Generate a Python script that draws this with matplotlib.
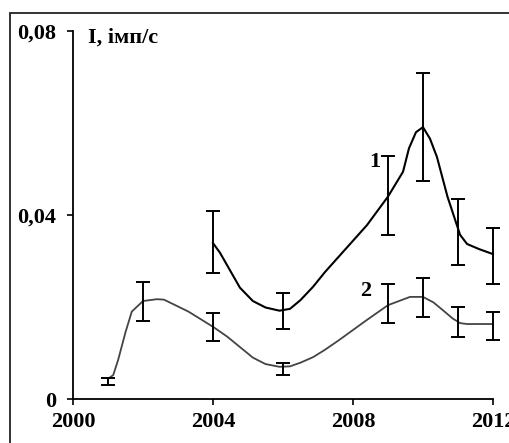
import matplotlib
matplotlib.use("Agg")
import matplotlib.pyplot as plt
from matplotlib.patches import Rectangle

plt.rcParams['font.family'] = ['Liberation Serif', 'DejaVu Serif']
plt.rcParams['font.weight'] = 'bold'

# curve 1 (traced line)
x1 = [2004.0, 2004.2, 2004.5, 2004.77, 2005.14, 2005.5, 2005.9, 2006.2, 2006.5, 2006.86,
      2007.2, 2007.6, 2008.0, 2008.4, 2009.0, 2009.43, 2009.6, 2009.8, 2010.0, 2010.2,
      2010.4, 2010.7, 2011.06, 2011.26, 2011.6, 2012.0]
y1 = [0.0339, 0.0318, 0.0278, 0.0242, 0.0213, 0.0199, 0.0192, 0.0196, 0.0215, 0.0244,
      0.0276, 0.0310, 0.0344, 0.0378, 0.0440, 0.0494, 0.0545, 0.0580, 0.0591, 0.0566,
      0.0526, 0.0440, 0.0357, 0.0337, 0.0326, 0.0315]

# curve 2 (traced line)
x2 = [2001.0, 2001.15, 2001.29, 2001.5, 2001.68, 2002.0, 2002.4, 2002.6, 2003.3, 2004.0,
      2004.4, 2004.77, 2005.14, 2005.5, 2005.9, 2006.2, 2006.5, 2006.86, 2007.2, 2007.6,
      2008.0, 2008.4, 2009.0, 2009.63, 2010.0, 2010.3, 2010.57, 2010.85, 2011.06, 2011.26,
      2012.0]
y2 = [0.0044, 0.0052, 0.0085, 0.0145, 0.0190, 0.0213, 0.0217, 0.0216, 0.0190, 0.0157,
      0.0136, 0.0113, 0.0090, 0.0076, 0.0070, 0.0071, 0.0079, 0.0091, 0.0107, 0.0128,
      0.0150, 0.0172, 0.0204, 0.0222, 0.0222, 0.0210, 0.0193, 0.0175, 0.0165, 0.0163,
      0.0163]

# error bars
ex1 = [2004, 2006, 2009, 2010, 2011, 2012]
ey1 = [0.0341, 0.0191, 0.0443, 0.0591, 0.0363, 0.0311]
ee1 = [0.0068, 0.0039, 0.0086, 0.0117, 0.0072, 0.0061]

ex2 = [2001, 2002, 2004, 2006, 2009, 2010, 2011, 2012]
ey2 = [0.0038, 0.0212, 0.0157, 0.0065, 0.0207, 0.0220, 0.0168, 0.0159]
ee2 = [0.0008, 0.0042, 0.0030, 0.0013, 0.0042, 0.0042, 0.0033, 0.0031]

fig = plt.figure(figsize=(5.10, 4.43), dpi=100)
ax = fig.add_axes([0.1431, 0.0993, 0.8235, 0.8307])

ax.plot(x1, y1, color='black', lw=1.5, clip_on=False, solid_joinstyle='round')
ax.plot(x2, y2, color='#444444', lw=1.3, clip_on=False, solid_joinstyle='round')
ax.errorbar(ex1, ey1, yerr=ee1, fmt='none', ecolor='black', elinewidth=1.4,
            capsize=4.8, capthick=1.4, clip_on=False)
ax.errorbar(ex2, ey2, yerr=ee2, fmt='none', ecolor='black', elinewidth=1.4,
            capsize=4.8, capthick=1.4, clip_on=False)

ax.set_xlim(2000, 2012)
ax.set_ylim(0, 0.08)
ax.set_xticks([2000, 2004, 2008, 2012])
ax.set_yticks([0, 0.04, 0.08])
ax.set_yticklabels(['0', '0,04', '0,08'])
ax.tick_params(direction='out', length=4, width=1.2, labelsize=16, color='black')
ax.tick_params(axis='y', pad=8)
ax.tick_params(axis='x', pad=5)
for lab in ax.get_xticklabels() + ax.get_yticklabels():
    lab.set_fontweight('bold')

for s in ['top', 'right']:
    ax.spines[s].set_visible(False)
for s in ['left', 'bottom']:
    ax.spines[s].set_linewidth(1.3)

ax.text(0.036, 1.01, 'I, імп/с', transform=ax.transAxes, fontsize=16,
        fontweight='bold', va='top', ha='left')
ax.text(2008.63, 0.0515, '1', fontsize=16, fontweight='bold', ha='center', va='center')
ax.text(2008.37, 0.0235, '2', fontsize=16, fontweight='bold', ha='center', va='center')

fig.patches.append(Rectangle((10.5 / 510, -0.1), 1.2, 1 - 12.5 / 443 + 0.1,
                             transform=fig.transFigure, fill=False,
                             edgecolor='#222222', lw=1.3))

fig.savefig('out.png', dpi=100)
